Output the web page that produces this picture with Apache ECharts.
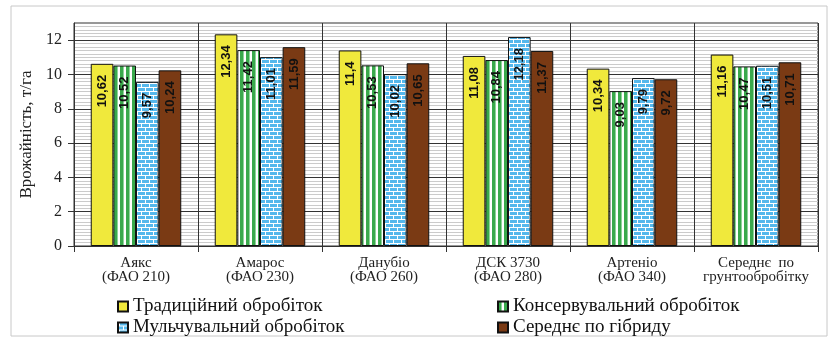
<!DOCTYPE html>
<html lang="uk">
<head>
<meta charset="UTF-8" />
<title>Врожайність</title>
<style>
* { margin: 0; padding: 0; }
#chart { width: 830px; height: 345px; background: #fff; }
</style>
</head>
<body>
<div id="chart"></div>
<script src="https://cdn.jsdelivr.net/npm/echarts@6/dist/echarts.min.js"></script>
<script>
const categories = ['Аякс\n(ФАО 210)', 'Амарос\n(ФАО 230)', 'Данубіо\n(ФАО 260)', 'ДСК 3730\n(ФАО 280)', 'Артеніо\n(ФАО 340)', 'Середнє  по\nгрунтообробітку'];
const seriesNames = ['Традиційний обробіток', 'Консервувальний обробіток', 'Мульчувальний обробіток', 'Середнє по гібриду'];
const traditional = [10.62, 12.34, 11.4, 11.08, 10.34, 11.16];
const conservation = [10.52, 11.42, 10.53, 10.84, 9.03, 10.47];
const mulching = [9.57, 11.01, 10.02, 12.18, 9.79, 10.51];
const hybridAvg = [10.24, 11.59, 10.65, 11.37, 9.72, 10.71];
const yTicks = [0, 2, 4, 6, 8, 10, 12];

// fill patterns like the excel chart
function stripePattern() {
  const c = document.createElement('canvas');
  c.width = 6; c.height = 4;
  const g = c.getContext('2d');
  g.fillStyle = '#fff'; g.fillRect(0, 0, 6, 4);
  g.fillStyle = '#3aa94c'; g.fillRect(0, 0, 3, 4);
  g.fillStyle = '#8fd39a'; g.fillRect(3, 0, 1, 4);
  return c;
}
function brickPattern() {
  const c = document.createElement('canvas');
  c.width = 8; c.height = 8;
  const g = c.getContext('2d');
  g.fillStyle = '#55b8ec'; g.fillRect(0, 0, 8, 8);
  g.fillStyle = '#fff';
  g.fillRect(0, 3, 8, 1); g.fillRect(0, 7, 8, 1);
  g.fillRect(1, 0, 1, 3); g.fillRect(5, 4, 1, 3);
  return c;
}

function makeSeries(name, data, color) {
  return {
    name: name,
    type: 'bar',
    data: data,
    barGap: 0,
    barCategoryGap: '27%',
    itemStyle: { color: color, borderColor: '#111', borderWidth: 1 },
    label: {
      show: true,
      position: 'insideTop',
      distance: 11,
      rotate: 90,
      align: 'right',
      verticalAlign: 'middle',
      fontFamily: 'Liberation Sans',
      fontWeight: 'bold',
      fontSize: 13,
      color: '#111',
      formatter: p => String(p.value).replace('.', ',')
    }
  };
}

const legendText = { fontFamily: 'Liberation Serif', fontSize: 19, color: '#111' };

const chart = echarts.init(document.getElementById('chart'));
chart.setOption({
  animation: false,
  backgroundColor: '#fff',
  graphic: [{
    type: 'rect', silent: true, z: -10,
    shape: { x: 11, y: 6, width: 816, height: 330 },
    style: { fill: '#fff', stroke: '#c8c8c8', lineWidth: 1 }
  }],
  grid: {
    left: 74, right: 12, top: 23, bottom: 99,
    show: true, borderColor: '#333', borderWidth: 1, backgroundColor: '#fff'
  },
  legend: [
    {
      data: [seriesNames[0], seriesNames[2]],
      orient: 'vertical', left: 112, top: 292, itemGap: 2,
      itemWidth: 10, itemHeight: 10, icon: 'rect', selectedMode: false,
      textStyle: legendText
    },
    {
      data: [seriesNames[1], seriesNames[3]],
      orient: 'vertical', left: 492, top: 292, itemGap: 2,
      itemWidth: 10, itemHeight: 10, icon: 'rect', selectedMode: false,
      textStyle: legendText
    }
  ],
  xAxis: {
    type: 'category',
    data: categories,
    axisLine: { lineStyle: { color: '#333' } },
    axisTick: { show: true, length: 6, lineStyle: { color: '#333' } },
    splitLine: { show: true, lineStyle: { color: '#333' } },
    axisLabel: {
      interval: 0, margin: 10,
      fontFamily: 'Liberation Serif', fontSize: 15, lineHeight: 14, color: '#222'
    }
  },
  yAxis: {
    type: 'value',
    min: 0, max: 13, interval: 2,
    name: 'Врожайність, т/га',
    nameLocation: 'middle',
    nameGap: 38,
    nameTextStyle: { fontFamily: 'Liberation Serif', fontSize: 17, color: '#222' },
    axisLine: { show: true, lineStyle: { color: '#333' } },
    axisTick: { show: true, length: 6, customValues: yTicks, lineStyle: { color: '#333' } },
    axisLabel: { customValues: yTicks, margin: 12, fontFamily: 'Liberation Serif', fontSize: 16, color: '#222' },
    splitLine: { show: true, lineStyle: { color: '#333' } },
    minorTick: { show: false, splitNumber: 10 },
    minorSplitLine: { show: true, lineStyle: { color: '#cbcbcb' } }
  },
  series: [
    makeSeries(seriesNames[0], traditional, '#f0e93c'),
    makeSeries(seriesNames[1], conservation, { image: stripePattern(), repeat: 'repeat' }),
    makeSeries(seriesNames[2], mulching, { image: brickPattern(), repeat: 'repeat' }),
    makeSeries(seriesNames[3], hybridAvg, '#7a3a14')
  ]
});
</script>
</body>
</html>
